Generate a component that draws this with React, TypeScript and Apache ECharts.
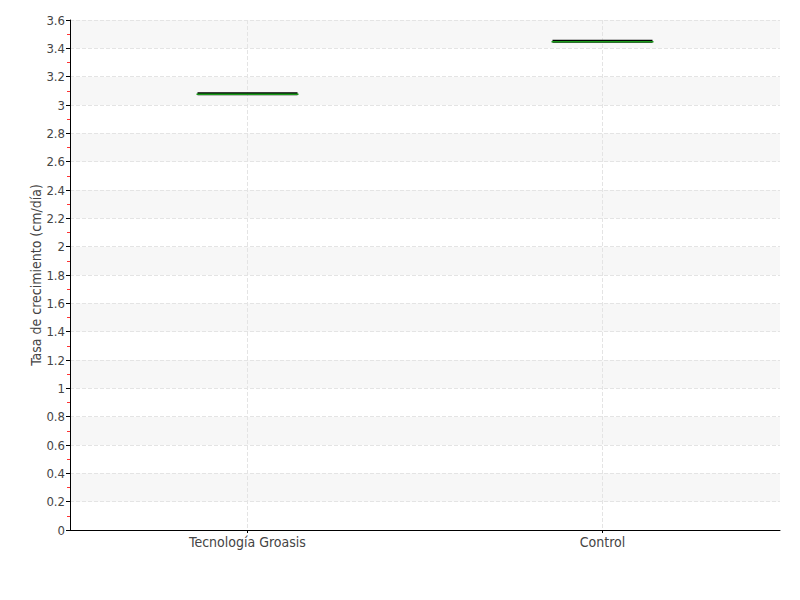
import React, { useEffect, useRef } from "react";
import * as echarts from "echarts";

const categories = ["Tecnología Groasis", "Control"];
const boxValues = [
  [3.08, 3.08, 3.08, 3.08, 3.08],
  [3.45, 3.45, 3.45, 3.45, 3.45],
];
const medians = [3.08, 3.45];
const yName = "Tasa de crecimiento (cm/día)";

const FONT = "'Liberation Sans Narrow', 'DejaVu Sans Condensed', 'DejaVu Sans', sans-serif";

export default function App() {
  const ref = useRef<HTMLDivElement>(null);
  useEffect(() => {
    if (!ref.current) return;
    const chart = echarts.init(ref.current, undefined, { renderer: "svg" });
    chart.setOption({
      animation: false,
      textStyle: { fontFamily: FONT },
      grid: { left: 70, right: 20, top: 20, bottom: 70 },
      xAxis: {
        type: "category",
        data: categories,
        axisLine: { lineStyle: { color: "#000" } },
        axisTick: { show: true, alignWithLabel: true, length: 3, lineStyle: { color: "#000" } },
        axisLabel: { color: "#444", fontSize: 14, fontFamily: FONT, margin: 5 },
        splitLine: {
          show: true,
          alignWithLabel: true,
          lineStyle: { color: "#e4e4e4", type: "dashed", width: 1 },
        },
      },
      yAxis: {
        type: "value",
        min: 0,
        max: 3.6,
        interval: 0.2,
        name: yName,
        nameLocation: "middle",
        nameGap: 27,
        nameMoveOverlap: false,
        nameTextStyle: { color: "#444", fontSize: 14, fontFamily: FONT },
        axisLine: { show: true, lineStyle: { color: "#000" } },
        axisTick: { show: true, length: 4, lineStyle: { color: "#000" } },
        minorTick: { show: true, splitNumber: 2, length: 3, lineStyle: { color: "#f33" } },
        axisLabel: { color: "#444", fontSize: 13, fontFamily: FONT, margin: 5 },
        splitLine: { show: true, lineStyle: { color: "#e4e4e4", type: "dashed", width: 1 } },
        splitArea: { show: true, areaStyle: { color: ["#ffffff", "#f7f7f7"] } },
      },
      series: [
        {
          type: "boxplot",
          data: boxValues,
          boxWidth: [100, 100],
          itemStyle: { color: "#fff", borderColor: "#000", borderWidth: 3 },
        },
        {
          type: "custom",
          data: categories.map((c, i) => [i, medians[i]]),
          encode: { x: 0, y: 1 },
          renderItem: (params: any, api: any) => {
            const x = api.value(0);
            const y = api.value(1);
            const p = api.coord([x, y]);
            const half = 51;
            return {
              type: "line",
              shape: { x1: p[0] - half, y1: p[1] + 0.5, x2: p[0] + half, y2: p[1] + 0.5 },
              style: { stroke: "#1a9a1a", lineWidth: 1.5 },
            };
          },
          z: 5,
        },
      ],
    });
    return () => chart.dispose();
  }, []);
  return <div ref={ref} style={{ width: 800, height: 600, margin: -8 }} />;
}
